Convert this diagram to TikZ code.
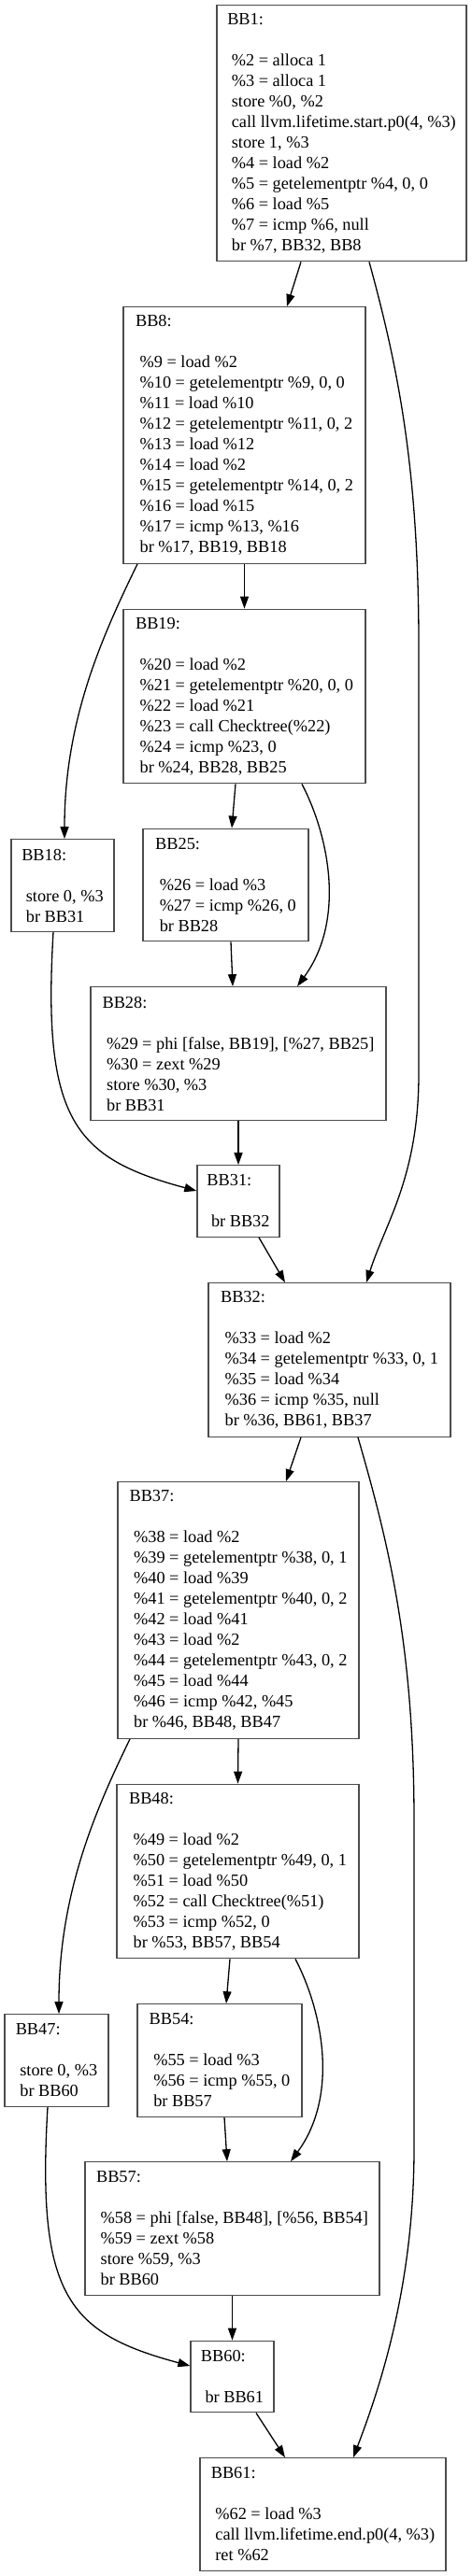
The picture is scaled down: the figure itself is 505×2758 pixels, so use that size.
\documentclass[tikz,border=0pt]{standalone}
\usepackage{fontspec}
\setmainfont{Liberation Serif}
\usetikzlibrary{arrows.meta}

\begin{document}
\begin{tikzpicture}[x=1pt, y=-1pt,
  bb/.style={draw=black!70, line width=1.3pt, align=left, inner xsep=10.5pt, inner ysep=2pt, font=\fontsize{18.3}{22}\selectfont},
  cf/.style={draw, line width=1.3pt, -{Triangle[length=13pt,width=9pt]}}]
  \useasboundingbox (0,0) rectangle (505,2758);
  % blocks
  \node[bb, minimum width=267pt, minimum height=274.5pt] (bb1) at (365.5,142.5) {BB1:\\[22pt]
    \ \%2 = alloca 1\\ \ \%3 = alloca 1\\ \ store \%0, \%2\\ \ call llvm.lifetime.start.p0(4, \%3)\\ \ store 1, \%3\\
    \ \%4 = load \%2\\ \ \%5 = getelementptr \%4, 0, 0\\ \ \%6 = load \%5\\ \ \%7 = icmp \%6, null\\ \ br \%7, BB32, BB8};
  \node[bb, minimum width=259pt, minimum height=274.5pt] (bb8) at (261.5,466) {BB8:\\[22pt]
    \ \%9 = load \%2\\ \ \%10 = getelementptr \%9, 0, 0\\ \ \%11 = load \%10\\ \ \%12 = getelementptr \%11, 0, 2\\ \ \%13 = load \%12\\
    \ \%14 = load \%2\\ \ \%15 = getelementptr \%14, 0, 2\\ \ \%16 = load \%15\\ \ \%17 = icmp \%13, \%16\\ \ br \%17, BB19, BB18};
  \node[bb, minimum width=259pt, minimum height=186.5pt] (bb19) at (261.5,745.5) {BB19:\\[22pt]
    \ \%20 = load \%2\\ \ \%21 = getelementptr \%20, 0, 0\\ \ \%22 = load \%21\\ \ \%23 = call Checktree(\%22)\\
    \ \%24 = icmp \%23, 0\\ \ br \%24, BB28, BB25};
  \node[bb, minimum width=110pt, minimum height=98.5pt] (bb18) at (67,948) {BB18:\\[22pt]
    \ store 0, \%3\\ \ br BB31};
  \node[bb, minimum width=177pt, minimum height=120.5pt] (bb25) at (241.5,947.5) {BB25:\\[22pt]
    \ \%26 = load \%3\\ \ \%27 = icmp \%26, 0\\ \ br BB28};
  \node[bb, minimum width=316pt, minimum height=142.5pt] (bb28) at (255,1128) {BB28:\\[22pt]
    \ \%29 = phi [false, BB19], [\%27, BB25]\\ \ \%30 = zext \%29\\ \ store \%30, \%3\\ \ br BB31};
  \node[bb, minimum width=88pt, minimum height=76.5pt] (bb31) at (255,1286) {BB31:\\[22pt]
    \ br BB32};
  \node[bb, minimum width=259pt, minimum height=164.5pt] (bb32) at (352.5,1456) {BB32:\\[22pt]
    \ \%33 = load \%2\\ \ \%34 = getelementptr \%33, 0, 1\\ \ \%35 = load \%34\\ \ \%36 = icmp \%35, null\\ \ br \%36, BB61, BB37};
  \node[bb, minimum width=258pt, minimum height=274.5pt] (bb37) at (255,1724) {BB37:\\[22pt]
    \ \%38 = load \%2\\ \ \%39 = getelementptr \%38, 0, 1\\ \ \%40 = load \%39\\ \ \%41 = getelementptr \%40, 0, 2\\ \ \%42 = load \%41\\
    \ \%43 = load \%2\\ \ \%44 = getelementptr \%43, 0, 2\\ \ \%45 = load \%44\\ \ \%46 = icmp \%42, \%45\\ \ br \%46, BB48, BB47};
  \node[bb, minimum width=259pt, minimum height=186.5pt] (bb48) at (254.5,2003.5) {BB48:\\[22pt]
    \ \%49 = load \%2\\ \ \%50 = getelementptr \%49, 0, 1\\ \ \%51 = load \%50\\ \ \%52 = call Checktree(\%51)\\
    \ \%53 = icmp \%52, 0\\ \ br \%53, BB57, BB54};
  \node[bb, minimum width=111pt, minimum height=98.5pt] (bb47) at (60.5,2206) {BB47:\\[22pt]
    \ store 0, \%3\\ \ br BB60};
  \node[bb, minimum width=176pt, minimum height=120.5pt] (bb54) at (235,2206) {BB54:\\[22pt]
    \ \%55 = load \%3\\ \ \%56 = icmp \%55, 0\\ \ br BB57};
  \node[bb, minimum width=315pt, minimum height=142.5pt] (bb57) at (248.5,2386) {BB57:\\[22pt]
    \ \%58 = phi [false, BB48], [\%56, BB54]\\ \ \%59 = zext \%58\\ \ store \%59, \%3\\ \ br BB60};
  \node[bb, minimum width=89pt, minimum height=76.5pt] (bb60) at (248.5,2544.5) {BB60:\\[22pt]
    \ br BB61};
  \node[bb, minimum width=263pt, minimum height=120.5pt] (bb61) at (345.5,2692) {BB61:\\[22pt]
    \ \%62 = load \%3\\ \ call llvm.lifetime.end.p0(4, \%3)\\ \ ret \%62};
  % edges
  \draw[cf] ([xshift=-43.5pt]bb1.south) -- ([xshift=45.5pt]bb8.north);
  \draw[cf] ([xshift=29.5pt]bb1.south) .. controls (425,390) and (448,500) .. (448,690) -- (448,1150) .. controls (448,1260) and (412,1310) .. ([xshift=39.5pt]bb32.north);
  \draw[cf] (bb8.south) -- (bb19.north);
  \draw[cf] ([xshift=-114.5pt]bb8.south) .. controls (110,680) and (69,770) .. ([xshift=2pt]bb18.north);
  \draw[cf] ([xshift=-9.5pt]bb19.south) -- ([xshift=6.5pt]bb25.north);
  \draw[cf] ([xshift=61.5pt]bb19.south) .. controls (352,895) and (370,985) .. ([xshift=63pt]bb28.north);
  \draw[cf] ([xshift=-10pt]bb18.south) .. controls (45,1200) and (80,1240) .. ([yshift=11pt]bb31.west);
  \draw[cf] ([xshift=5.5pt]bb25.south) -- ([xshift=-6pt]bb28.north);
  \draw[cf] (bb28.south) -- (bb31.north);
  \draw[cf] ([xshift=22pt]bb31.south) -- ([xshift=-47.5pt]bb32.north);
  \draw[cf] ([xshift=-30.5pt]bb32.south) -- ([xshift=51pt]bb37.north);
  \draw[cf] ([xshift=30.5pt]bb32.south) .. controls (415,1650) and (443,1760) .. (443,1950) -- (443,2300) .. controls (443,2450) and (405,2560) .. ([xshift=32.5pt]bb61.north);
  \draw[cf] (bb37.south) -- (bb48.north);
  \draw[cf] ([xshift=-116pt]bb37.south) .. controls (102,1938) and (63,2028) .. ([xshift=2.5pt]bb47.north);
  \draw[cf] ([xshift=-8.5pt]bb48.south) -- ([xshift=7pt]bb54.north);
  \draw[cf] ([xshift=61.5pt]bb48.south) .. controls (345,2153) and (363,2243) .. ([xshift=62.5pt]bb57.north);
  \draw[cf] ([xshift=-9.5pt]bb47.south) .. controls (39,2458) and (73,2498) .. ([yshift=11.5pt]bb60.west);
  \draw[cf] ([xshift=5pt]bb54.south) -- ([xshift=-5.5pt]bb57.north);
  \draw[cf] (bb57.south) -- (bb60.north);
  \draw[cf] ([xshift=25.5pt]bb60.south) -- ([xshift=-40.5pt]bb61.north);
\end{tikzpicture}
\end{document}
